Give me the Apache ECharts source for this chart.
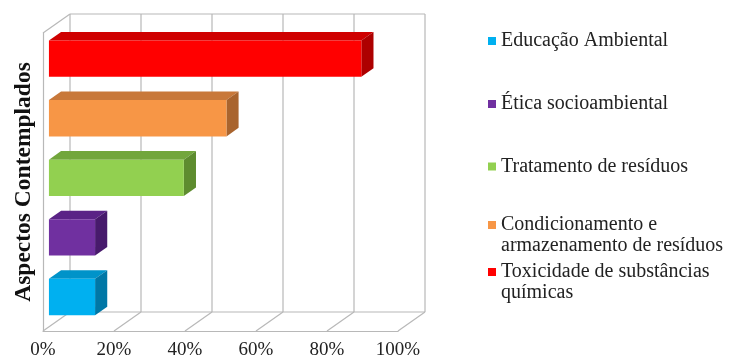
<!DOCTYPE html>
<html>
<head>
<meta charset="utf-8">
<script src="https://cdn.jsdelivr.net/npm/echarts@6/dist/echarts.min.js"></script>
<style>
html,body{margin:0;padding:0;background:#fff;}
#chart{width:730px;height:363px;}
</style>
</head>
<body>
<div id="chart"></div>
<script>
// Data
const categories = ['Educação Ambiental', 'Ética socioambiental', 'Tratamento de resíduos', 'Condicionamento e\narmazenamento de resíduos', 'Toxicidade de substâncias\nquímicas'];
const values = [13, 13, 38, 50, 88];
const xTicks = [0, 20, 40, 60, 80, 100];
const axisTitle = 'Aspectos Contemplados';

// Styles
const faceColors = [
  {front: '#00b0f0', top: '#0093c9', side: '#0077a6'},
  {front: '#7030a0', top: '#5a2386', side: '#471a6c'},
  {front: '#92d050', top: '#72a63c', side: '#5e8c2f'},
  {front: '#f79646', top: '#c8783a', side: '#a9642e'},
  {front: '#ff0000', top: '#cf0000', side: '#ad0000'}
];
const legendTops = [30.5, 93.5, 156, 193.5, 240.5];
const DX = 27, DY = -19;          // wall depth
const BF = 0.22, BB = 0.67;       // bar front/back depth fraction
const gridColor = '#b8b8b8';
const serif = 'Liberation Serif';

const chart = echarts.init(document.getElementById('chart'));

function frameItem(params, api) {
  const v = api.value(0);
  const cs = params.coordSys;
  const top = cs.y, bottom = cs.y + cs.height;
  const x = api.coord([v, 0])[0];
  const style = {stroke: gridColor, lineWidth: 1.2, fill: null};
  const children = [
    {type: 'line', shape: {x1: x, y1: bottom, x2: x + DX, y2: bottom + DY}, style},
    {type: 'line', shape: {x1: x + DX, y1: bottom + DY, x2: x + DX, y2: top + DY}, style}
  ];
  if (params.dataIndex === 0) {
    const xe = api.coord([xTicks[xTicks.length - 1], 0])[0];
    children.push(
      {type: 'line', shape: {x1: x, y1: top, x2: x + DX, y2: top + DY}, style},
      {type: 'line', shape: {x1: x + DX, y1: top + DY, x2: xe + DX, y2: top + DY}, style},
      {type: 'line', shape: {x1: x + DX, y1: bottom + DY, x2: xe + DX, y2: bottom + DY}, style}
    );
  }
  return {type: 'group', children};
}

function barItem(colors) {
  return function (params, api) {
    const v = api.value(0), c = api.value(1);
    const p0 = api.coord([0, c]);
    const p1 = api.coord([v, c]);
    const band = api.size([0, 1])[1];
    const h = band * 0.61;
    const fx = DX * BF, fy = DY * BF;
    const bx = DX * (BB - BF), by = DY * (BB - BF);
    const x0 = p0[0] + fx, x1 = p1[0] + fx;
    const yt = p0[1] + fy - h / 2, yb = p0[1] + fy + h / 2;
    return {
      type: 'group',
      children: [
        {type: 'polygon', shape: {points: [[x0, yt], [x1, yt], [x1 + bx, yt + by], [x0 + bx, yt + by]]}, style: {fill: colors.top}},
        {type: 'polygon', shape: {points: [[x1, yt], [x1 + bx, yt + by], [x1 + bx, yb + by], [x1, yb]]}, style: {fill: colors.side}},
        {type: 'rect', shape: {x: x0, y: yt, width: x1 - x0, height: yb - yt}, style: {fill: colors.front}}
      ]
    };
  };
}

const series = [{
  type: 'custom',
  name: '__frame',
  data: xTicks.map(t => [t]),
  renderItem: frameItem,
  silent: true,
  z: 1,
  encode: {x: 0}
}];
categories.forEach((name, i) => {
  series.push({
    type: 'custom',
    name: name,
    data: [[values[i], i]],
    renderItem: barItem(faceColors[i]),
    itemStyle: {color: faceColors[i].front},
    encode: {x: 0, y: 1},
    z: 5
  });
});

const legends = categories.map((name, i) => {
  const multi = name.indexOf('\n') >= 0;
  return {
    data: [{name: name, icon: 'rect'}],
    left: 488,
    top: legendTops[i],
    padding: 0,
    orient: 'vertical',
    itemWidth: 8,
    itemHeight: 8,
    selectedMode: false,
    formatter: multi ? (n => '\n' + n) : undefined,
    textStyle: {fontFamily: serif, fontSize: 20, color: '#222', lineHeight: 21}
  };
});

chart.setOption({
  animation: false,
  backgroundColor: '#fff',
  grid: {left: 43, top: 33, width: 355, height: 298},
  legend: legends,
  xAxis: {
    type: 'value', min: 0, max: 100, interval: 20,
    axisLine: {show: true, lineStyle: {color: gridColor, width: 1.2}},
    axisTick: {show: false},
    splitLine: {show: false},
    axisLabel: {formatter: '{value}%', fontFamily: serif, fontSize: 19, color: '#222', margin: 10}
  },
  yAxis: {
    type: 'category', data: categories,
    axisLine: {show: true, lineStyle: {color: gridColor, width: 1.2}},
    axisTick: {show: false},
    axisLabel: {show: false},
    splitLine: {show: false},
    name: axisTitle, nameLocation: 'middle', nameRotate: 90, nameGap: 7,
    nameTextStyle: {fontFamily: serif, fontSize: 23.5, fontWeight: 'bold', color: '#111'}
  },
  series: series
});
</script>
</body>
</html>
